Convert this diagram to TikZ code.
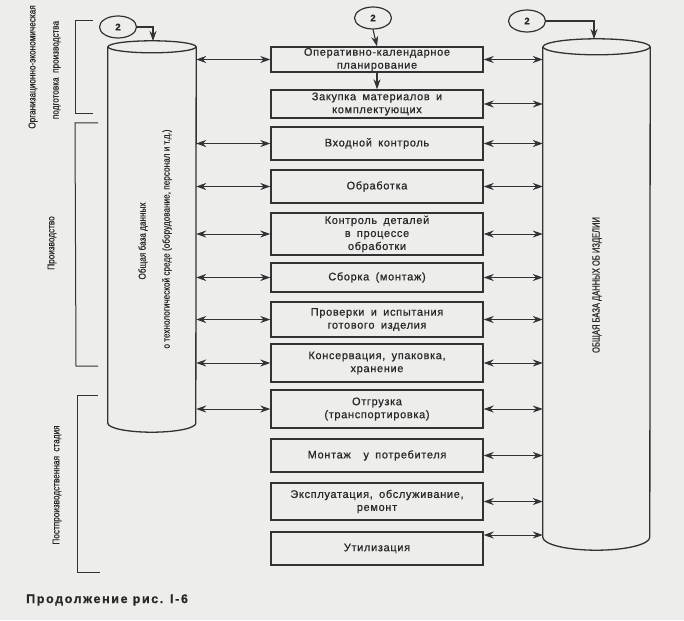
\documentclass[tikz,border=0pt]{standalone}
\usepackage{fontspec}
\setmainfont{Liberation Sans}
\newfontfamily\boxfont[LetterSpace=6,WordSpace=1.7,FakeBold=0.7]{Liberation Sans}
\newfontfamily\narrowfont[FakeStretch=0.82,FakeBold=0.4]{Liberation Sans}
\newfontfamily\capsfont[FakeStretch=0.72,FakeBold=0.4]{Liberation Sans}
\newfontfamily\captfont[LetterSpace=13,FakeBold=0.8]{Liberation Sans Bold}
\newfontfamily\numfont[FakeBold=0.5]{Liberation Sans Bold}
\usetikzlibrary{arrows.meta,shapes.geometric}
\definecolor{bgc}{RGB}{237,237,235}
\definecolor{lc}{RGB}{50,50,50}
\definecolor{tc}{RGB}{40,40,40}
\begin{document}
\begin{tikzpicture}[x=1pt,y=-1pt,
  ln/.style={draw=lc, line width=1.3pt},
  brk/.style={draw=lc, line width=1pt},
  stepbox/.style={draw=lc, line width=1.4pt, minimum width=212pt, inner sep=0pt, align=center,
    font=\boxfont\fontsize{11}{13}\selectfont, text=tc},
  dbl/.style={draw=lc, line width=1pt, {Stealth[length=10pt,width=7pt]}-{Stealth[length=10pt,width=7pt]}},
  one/.style={draw=lc, line width=1.1pt, -{Stealth[length=10pt,width=7pt]}},
  lbl/.style={rotate=90, inner sep=0pt, font=\narrowfont\fontsize{10}{12}\selectfont, text=tc},
  num/.style={draw=lc, line width=1.2pt, ellipse, minimum width=37pt, minimum height=22pt, inner sep=0pt,
    font=\numfont\fontsize{9.5}{9.5}\selectfont, text=tc}
]
\fill[bgc] (0,0) rectangle (684,620);
\useasboundingbox (0,0) rectangle (684,620);

% boxes
\node[stepbox, minimum height=25pt] (b1) at (377,59.5) {Оперативно-календарное\\планирование};
\node[stepbox, minimum height=28pt] (b2) at (377,104) {Закупка материалов и\\комплектующих};
\node[stepbox, minimum height=33pt] (b3) at (377,143.5) {Входной контроль};
\node[stepbox, minimum height=33pt] (b4) at (377,186.5) {Обработка};
\node[stepbox, minimum height=42pt] (b5) at (377,234) {Контроль деталей\\в процессе\\обработки};
\node[stepbox, minimum height=29pt] (b6) at (377,277.5) {Сборка (монтаж)};
\node[stepbox, minimum height=35pt] (b7) at (377,319.5) {Проверки и испытания\\готового изделия};
\node[stepbox, minimum height=38pt] (b8) at (377,363) {Консервация, упаковка,\\хранение};
\node[stepbox, minimum height=38pt] (b9) at (377,409) {Отгрузка\\(транспортировка)};
\node[stepbox, minimum height=33pt] (b10) at (377,455.5) {Монтаж\ \ у потребителя};
\node[stepbox, minimum height=37pt] (b11) at (377,501.5) {Эксплуатация, обслуживание,\\ремонт};
\node[stepbox, minimum height=33pt] (b12) at (377,548.5) {Утилизация};

% cylinders (bodies as named nodes)
\node[minimum width=88pt, minimum height=376pt, inner sep=0pt] (lcyl) at (152,235) {};
\node[minimum width=107pt, minimum height=490pt, inner sep=0pt] (rcyl) at (596.5,292) {};
\draw[ln] (lcyl.north west) -- (lcyl.south west)
  arc[start angle=180, end angle=360, x radius=44pt, y radius=9pt] -- (lcyl.north east);
\draw[ln] (lcyl.north) ellipse [x radius=44pt, y radius=6pt];
\draw[ln] (rcyl.north west) -- (rcyl.south west)
  arc[start angle=180, end angle=360, x radius=53.5pt, y radius=13pt] -- (rcyl.north east);
\draw[ln] (rcyl.north) ellipse [x radius=53.5pt, y radius=8pt];
\coordinate (ltop) at (153,41);
\coordinate (rtop) at (594,39);

% number markers
\node[num] (n1) at (118,27) {2};
\node[num] (n2) at (373,18) {2};
\node[num] (n3) at (527,21) {2};
\draw[one] (n1.east) -| (ltop);
\draw[one] (n3.east) -| (rtop);
\draw[one] (n2.south) -- (b1.north);
\draw[one] (b1.south) -- (b2.north);

% left arrows
\foreach \b in {b1,b3,b4,b5,b6,b7,b8,b9}
  \draw[dbl] (lcyl.east |- \b.west) -- (\b.west);
% right arrows
\foreach \b in {b1,b2,b3,b4,b5,b6,b7,b8,b9,b10,b11}
  \draw[dbl] (\b.east) -- (\b.east -| rcyl.west);
\draw[dbl] ([yshift=13.5pt]b12.east) -- ([yshift=13.5pt]b12.east -| rcyl.west);

% brackets
\draw[brk] (93,21) -- (75,21) -- (75,114) -- (93,114);
\draw[brk] (98,123) -- (75,123) -- (76,366) -- (98,366);
\draw[brk] (98,395) -- (77,395) -- (77,572) -- (100,572);

% rotated labels
\node[lbl] (t1) at (33,67) {Организационно-экономическая};
\node[lbl] (t2) at (57,70) {подготовка\ \ производства};
\node[lbl] (t3) at (52,243) {Производство};
\node[lbl] (t4) at (57,485) {Постпроизводственная\ \ стадия};
\node[lbl] (c1) at (143,241) {Общая база данных};
\node[lbl] (c2) at (167,239) {о технологической среде (оборудование, персонал и т.д.)};
\node[rotate=90, inner sep=0pt, font=\capsfont\fontsize{10.5}{12}\selectfont, text=tc] (c3) at (597,285) {ОБЩАЯ БАЗА ДАННЫХ ОБ ИЗДЕЛИИ};

% caption
\node[anchor=west, inner sep=0pt, font=\captfont\fontsize{12.5}{14}\selectfont, text=tc] (cap) at (26,600) {Продолжение рис. I-6};
\end{tikzpicture}
\end{document}
